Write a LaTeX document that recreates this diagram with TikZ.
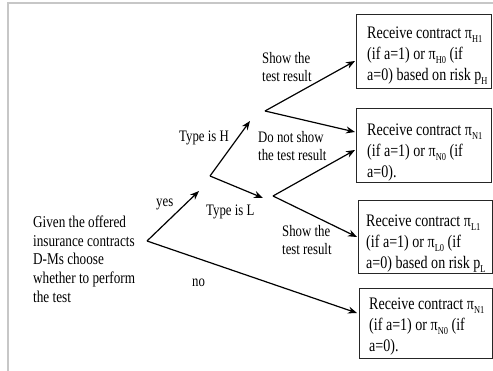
\documentclass[tikz,border=0pt]{standalone}
\usepackage{fontspec}
\setmainfont{Liberation Serif}[FakeStretch=0.8]
\usetikzlibrary{arrows.meta}
\newcommand\sbs[1]{\raisebox{-0.22em}{\fontsize{10.5}{10.5}\selectfont #1}}
\begin{document}
\begin{tikzpicture}[x=1pt,y=-1pt,
  box/.style={draw=black!85, line width=1.4pt, anchor=north west, inner sep=0pt},
  boxtext/.style={font=\fontsize{17.6}{20.8}\selectfont, align=left, anchor=north west, inner sep=0pt},
  lbl/.style={font=\fontsize{16}{18.7}\selectfont, align=left, inner sep=0pt},
  arr/.style={line width=1.2pt, -{Stealth[length=9pt,width=7pt]}},
  frameline/.style={draw=black!22, line width=1.5pt}]
\useasboundingbox (0,0) rectangle (493,371);
\draw[frameline] (8,371) -- (8,3) -- (493,3);

% boxes
\node[box, minimum width=135pt, minimum height=74pt] (b1) at (356,14) {};
\node[box, minimum width=135pt, minimum height=74pt] (b2) at (356,108) {};
\node[box, minimum width=134pt, minimum height=73pt] (b3) at (358,200) {};
\node[box, minimum width=133pt, minimum height=70pt] (b4) at (359,288) {};

\node[boxtext] (t1) at (367,27) {Receive contract π\sbs{H1}\\(if a=1) or π\sbs{H0} (if\\a=0) based on risk p\sbs{H}};
\node[boxtext] (t2) at (367,124) {Receive contract π\sbs{N1}\\(if a=1) or π\sbs{N0} (if\\a=0).};
\node[boxtext] (t3) at (366,215) {Receive contract π\sbs{L1}\\(if a=1) or π\sbs{L0} (if\\a=0) based on risk p\sbs{L}};
\node[boxtext] (t4) at (369,298) {Receive contract π\sbs{N1}\\(if a=1) or π\sbs{N0} (if\\a=0).};

% left text
\node[lbl, anchor=north west, font=\fontsize{16.5}{18.8}\selectfont] (start) at (33,215.5)
  {Given the offered\\insurance contracts\\D-Ms choose\\whether to perform\\the test};

% labels
\node[lbl, anchor=base west] (yes) at (156,207) {yes};
\node[lbl, anchor=base west] (no) at (192,287) {no};
\node[lbl, anchor=base west] (typeH) at (179,142) {Type is H};
\node[lbl, anchor=base west] (typeL) at (206,216) {Type is L};
\node[lbl, anchor=north west] (showH) at (262,52) {Show the\\test result};
\node[lbl, anchor=north west] (noshow) at (258,131) {Do not show\\the test result};
\node[lbl, anchor=north west] (showL) at (282,225) {Show the\\test result};

% branch points and arrow ends
\coordinate (v0) at (147,241);
\coordinate (v1) at (210,176);
\coordinate (v2) at (265,111);
\coordinate (v3) at (273,196);
\coordinate (tyes) at (199,191);
\coordinate (tno) at (357,313);
\coordinate (tH) at (250,121);
\coordinate (tL) at (263,198);
\coordinate (tA) at (355,61);
\coordinate (tB) at (355,132);
\coordinate (tC) at (355,150);
\coordinate (tD) at (357,237);

\draw[arr] (v0) -- (tyes);
\draw[arr] (v0) -- (tno);
\draw[arr] (v1) -- (tH);
\draw[arr] (v1) -- (tL);
\draw[arr] (v2) -- (tA);
\draw[arr] (v2) -- (tB);
\draw[arr] (v3) -- (tC);
\draw[arr] (v3) -- (tD);
\end{tikzpicture}
\end{document}
